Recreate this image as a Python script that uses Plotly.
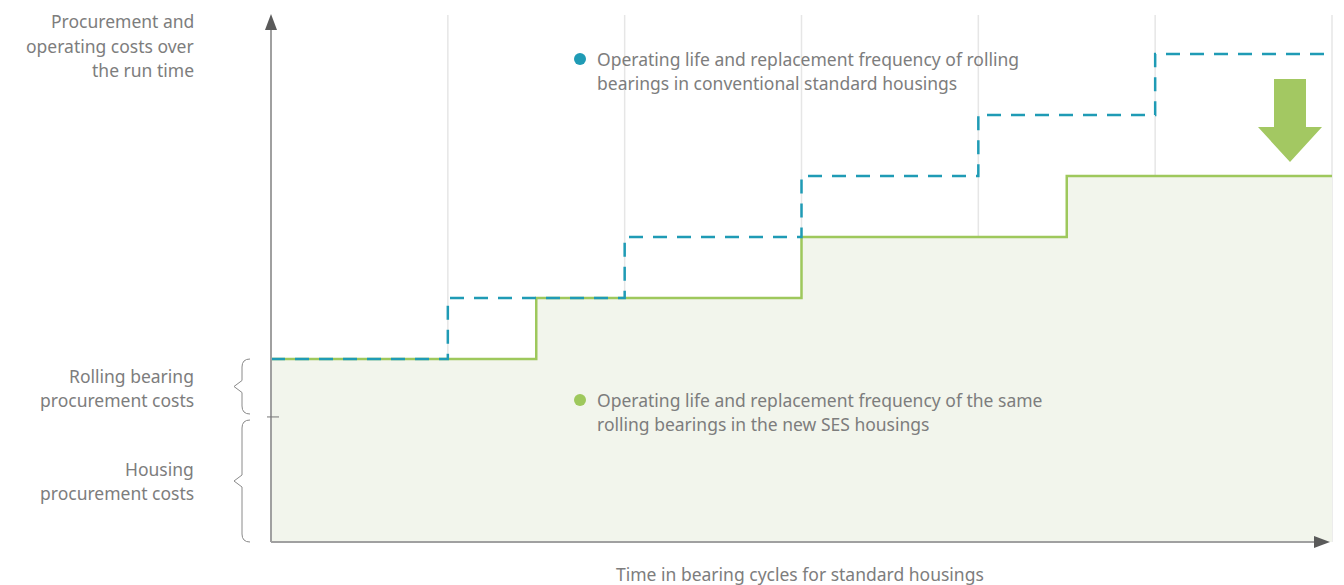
import plotly.graph_objects as go

# Data
std_cycles = [0, 1, 2, 3, 4, 5, 6]
std_costs = [3, 4, 5, 6, 7, 8, 8]
ses_cycles = [0, 1.5, 3, 4.5, 6]
ses_costs = [3, 4, 5, 6, 6]
housing_cost = 2.05

TEAL = "#1f9bb5"
GREEN = "#9ec85c"
FILL = "#f2f5ec"
TXT = "#7d7d7d"
FONT = "Noto Sans"

W, H = 1344, 585
OFF = 8  # page body margin
X0, X6 = 271, 1332   # screen px of x=0 and x=6
Y0 = 542             # screen px of y=0
SX = (X6 - X0) / 6.0
SY = 61.0

def xd(px):
    return (px - X0) / SX

def yd(py):
    return (Y0 - py) / SY

xr = [xd(OFF), xd(OFF + W)]
yr = [yd(OFF + H), yd(OFF)]

fig = go.Figure()
fig.add_trace(go.Scatter(x=ses_cycles, y=ses_costs, mode="lines", line=dict(shape="hv", color=GREEN, width=2.5),
                         fill="tozeroy", fillcolor=FILL, hoverinfo="skip", showlegend=False))
fig.add_trace(go.Scatter(x=std_cycles, y=std_costs, mode="lines", line=dict(shape="hv", color=TEAL, width=2.5, dash="14px,10px"),
                         hoverinfo="skip", showlegend=False))

shapes = []
for gx in std_cycles[1:]:
    shapes.append(dict(type="line", xref="x", yref="y", x0=gx, x1=gx, y0=0, y1=yd(15), line=dict(color="#e6e6e6", width=1.5), layer="below"))
shapes.append(dict(type="line", xref="x", yref="y", x0=0, x1=0, y0=0, y1=yd(28), line=dict(color="#a0a0a0", width=2)))
shapes.append(dict(type="line", xref="x", yref="y", x0=0, x1=xd(1316), y0=0, y1=0, line=dict(color="#a0a0a0", width=2)))
shapes.append(dict(type="path", xref="x", yref="y",
                   path=f"M {xd(271)} {yd(14)} L {xd(265)} {yd(30)} L {xd(277)} {yd(30)} Z",
                   fillcolor="#5a5a5a", line=dict(width=0)))
shapes.append(dict(type="path", xref="x", yref="y",
                   path=f"M {xd(1330)} {yd(542)} L {xd(1314)} {yd(536)} L {xd(1314)} {yd(548)} Z",
                   fillcolor="#5a5a5a", line=dict(width=0)))
shapes.append(dict(type="line", xref="x", yref="y", x0=xd(267), x1=xd(279), y0=housing_cost, y1=housing_cost, line=dict(color="#777", width=1)))

def brace(y0, y1):
    ym = (y0 + y1) / 2
    p = (f"M {xd(250)} {yd(y0)} Q {xd(242)} {yd(y0)} {xd(242)} {yd(y0+8)} "
         f"L {xd(242)} {yd(ym-6)} L {xd(234)} {yd(ym)} L {xd(242)} {yd(ym+6)} "
         f"L {xd(242)} {yd(y1-8)} Q {xd(242)} {yd(y1)} {xd(250)} {yd(y1)}")
    return dict(type="path", xref="x", yref="y", path=p, line=dict(color="#8a8a8a", width=1))

shapes.append(brace(359, 414))
shapes.append(brace(420, 542))

ax = [1274, 1306, 1306, 1322, 1290, 1258, 1274]
ay = [79, 79, 127, 127, 162, 127, 127]
path = "M " + " L ".join(f"{xd(a)} {yd(b)}" for a, b in zip(ax, ay)) + " Z"
shapes.append(dict(type="path", xref="x", yref="y", path=path, fillcolor="#a3c862", line=dict(width=0)))

for cy, col in [(59, TEAL), (400, GREEN)]:
    shapes.append(dict(type="circle", xref="x", yref="y", x0=xd(574), x1=xd(586), y0=yd(cy - 6), y1=yd(cy + 6),
                       fillcolor=col, line=dict(width=0)))

annotations = []
def text(px, py, s, anchor="left"):
    annotations.append(dict(x=xd(px), y=yd(py), xref="x", yref="y", text=s, showarrow=False,
                            xanchor=anchor, yanchor="middle", font=dict(family=FONT, size=17.5, color=TXT)))

for i, s in enumerate(["Procurement and", "operating costs over", "the run time"]):
    text(196, 21 + i * 24.5, s, "right")
for i, s in enumerate(["Rolling bearing", "procurement costs"]):
    text(196, 376 + i * 24, s, "right")
for i, s in enumerate(["Housing", "procurement costs"]):
    text(196, 469 + i * 24, s, "right")
for i, s in enumerate(["Operating life and replacement frequency of rolling", "bearings in conventional standard housings"]):
    text(595, 59 + i * 24, s)
for i, s in enumerate(["Operating life and replacement frequency of the same", "rolling bearings in the new SES housings"]):
    text(595, 400 + i * 24, s)
text(800, 574, "Time in bearing cycles for standard housings", "center")

fig.update_layout(
    width=W, height=H, margin=dict(l=0, r=0, t=0, b=0),
    paper_bgcolor="white", plot_bgcolor="white",
    xaxis=dict(range=xr, visible=False, fixedrange=True),
    yaxis=dict(range=yr, visible=False, fixedrange=True),
    shapes=shapes, annotations=annotations, showlegend=False,
)
fig.write_html("out.html")
